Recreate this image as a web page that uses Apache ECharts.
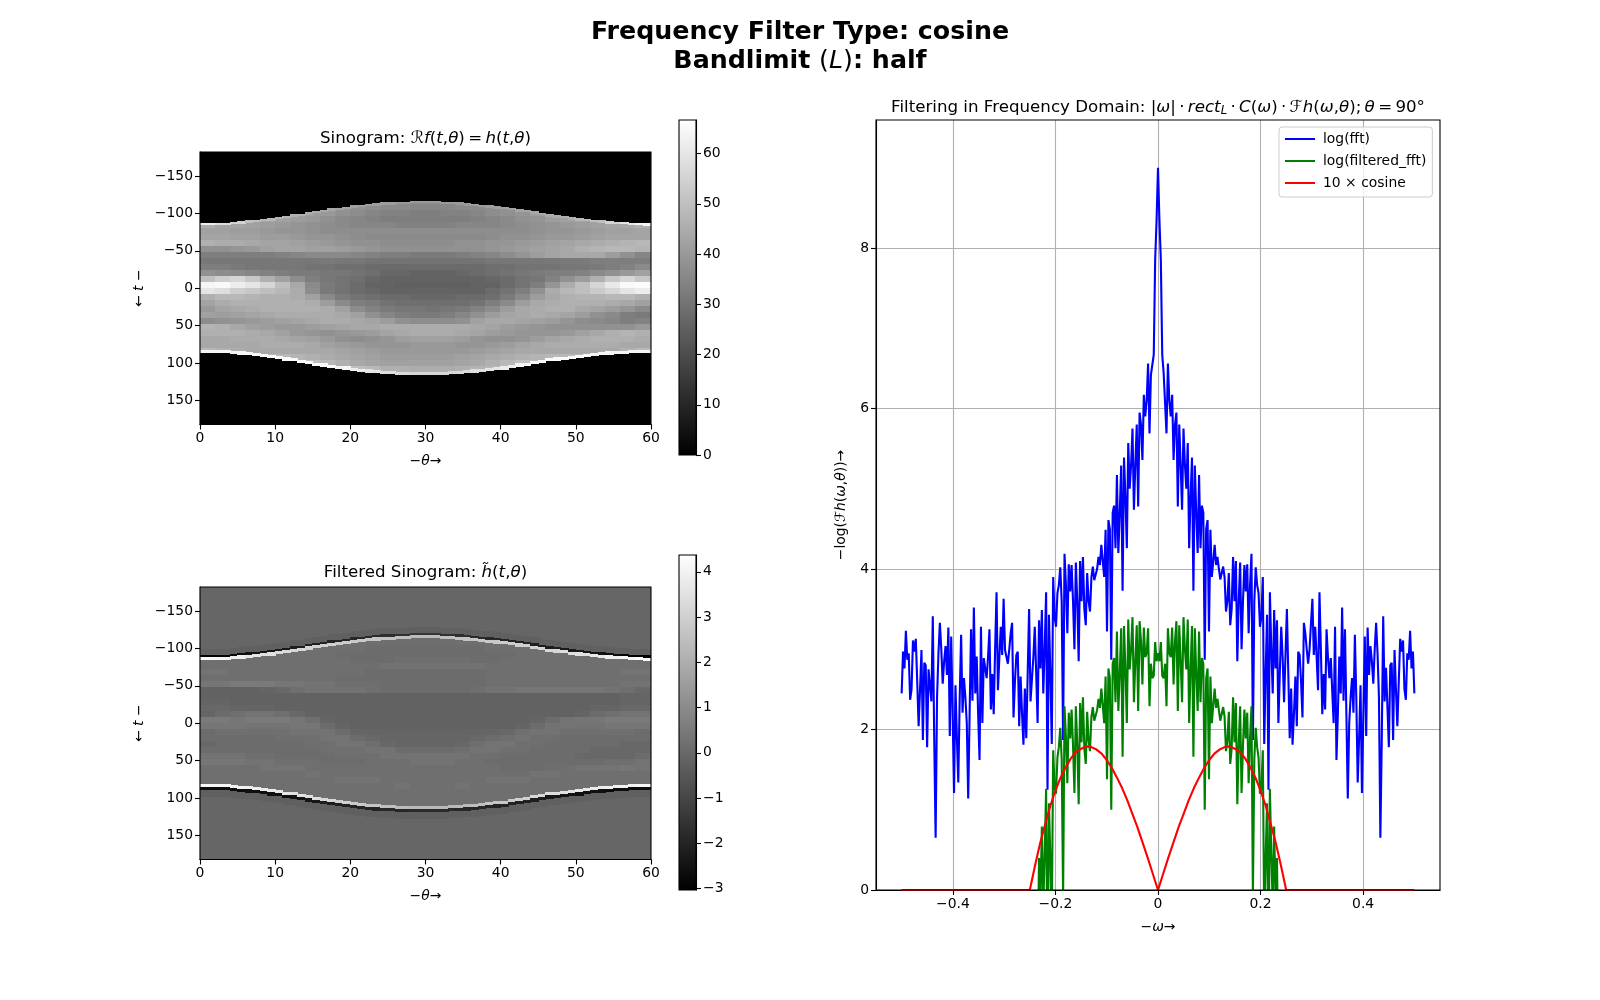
<!DOCTYPE html>
<html><head><meta charset="utf-8">
<script src="https://cdn.jsdelivr.net/npm/echarts@6/dist/echarts.min.js"></script>
<style>html,body{margin:0;padding:0;background:#fff}#c{width:1600px;height:1000px}</style>
</head><body><div id="c"></div>
<script>
// ---------- Sinogram panel data ----------
const rowCentres = [-116,-108,-100,-92,-84,-76,-68,-60,-52,-44,-36,-28,-20,-12,-4,4,12,20,28,36,44,52,60,68,76,84,92,100,108,116];
const topEdge = [-87,-87,-87,-87,-88,-89,-90,-91,-92,-93,-95,-96,-98,-99,-101,-103,-104,-106,-107,-108,-110,-111,-112,-113,-114,-114,-115,-115,-116,-116,-116,-116,-115,-115,-114,-113,-112,-111,-110,-109,-108,-107,-105,-104,-102,-100,-98,-97,-96,-94,-93,-92,-91,-90,-89,-88,-88,-87,-87,-86];
const bottomEdge = [86,86,86,86,87,88,89,90,91,93,94,96,97,99,101,103,104,106,107,108,110,111,112,113,114,114,115,115,115,115,115,115,115,114,114,113,112,111,110,109,108,106,104,103,101,99,97,96,95,94,93,91,90,89,88,87,87,86,86,86];
const sinoTopBright = [62,58,55,50,48,47,46,45,44,43, 42,41,41,40,40,40,40,40,41,41, 42,43,44,45,46,48,50,55,60,64];
const sinoBottomBright = [64,64,64,65,65,65,65,65,65,64, 62,60,58,57,56,56,56,57,58,60, 62,64,65,65,65,65,64,64,64,64];
const sinoOutside = 0;
const sinoGrid = [
[36,36,36,36,36,36,36,36,36,36, 36,36,36,36,36,36,36,36,36,36, 36,36,36,36,36,36,36,36,36,36],
[42,42,42,42,42,42,42,41,41,39, 38,37,36,36,35,35,35,36,36,37, 38,39,40,41,41,42,42,42,42,42],
[44,44,44,44,43,43,42,41,40,38, 37,35,34,34,33,33,34,34,35,37, 38,39,41,42,42,43,44,44,44,44],
[44,44,44,44,43,42,41,40,38,36, 35,34,33,33,33,33,33,33,34,35, 36,38,39,41,42,43,44,44,45,45],
[45,43,43,42,41,40,39,38,37,36, 35,35,35,34,34,34,34,35,35,35, 36,37,38,39,40,41,42,43,44,46],
[42,42,41,41,40,39,39,38,37,37, 37,37,37,37,37,37,37,37,37,37, 37,37,38,39,39,40,41,42,42,43],
[43,43,42,42,41,41,40,39,39,38, 37,36,36,36,36,36,36,36,36,37, 38,38,39,40,40,41,42,43,43,43],
[46,45,45,44,43,43,42,41,40,39, 38,38,37,37,37,37,37,38,38,39, 39,40,41,42,43,44,45,46,47,48],
[38,38,39,40,42,43,43,42,42,41, 40,39,38,38,38,38,38,38,38,39, 40,41,42,43,44,46,47,48,48,47],
[33,33,33,33,33,34,35,36,36,36, 35,34,33,33,32,32,32,33,34,35, 37,39,41,43,44,44,44,41,38,35],
[31,31,31,31,31,31,31,31,32,31, 31,30,30,30,30,30,30,30,30,31, 31,31,31,31,32,32,33,33,33,33],
[33,33,32,31,31,31,31,30,30,29, 29,28,28,28,28,28,28,28,28,29, 29,30,30,30,31,31,32,33,34,36],
[38,37,36,35,34,33,32,32,31,31, 30,29,27,27,26,26,26,27,28,29, 30,31,32,33,33,34,36,38,40,42],
[50,54,56,52,46,42,37,33,31,30, 29,27,26,26,26,26,26,26,26,27, 28,30,31,34,38,41,46,52,56,52],
[64,65,62,60,56,50,44,36,32,30, 28,26,26,25,25,25,25,25,26,26, 28,30,33,39,45,50,56,61,65,66],
[60,58,54,52,50,48,45,37,32,30, 28,27,26,26,26,26,26,26,26,28, 30,33,38,45,48,50,53,56,60,62],
[46,48,48,47,46,46,45,42,36,32, 30,29,28,28,27,27,27,28,28,29, 32,36,41,44,46,47,47,48,48,46],
[43,45,46,46,46,46,46,45,41,36, 33,32,30,29,29,29,29,29,30,33, 36,41,44,45,46,46,46,45,44,42],
[40,43,44,45,46,46,46,46,45,42, 37,34,32,31,31,30,31,32,34,37, 41,44,45,46,46,44,43,41,39,36],
[42,41,42,43,44,45,45,45,45,44, 42,38,35,33,32,32,33,35,38,41, 43,44,45,44,43,41,38,36,33,32],
[37,38,39,40,41,42,43,44,45,45, 44,43,41,38,37,37,37,38,42,44, 44,43,42,41,39,37,36,35,33,34],
[47,46,44,42,41,40,40,41,42,43, 44,44,45,45,45,45,45,45,44,43, 41,40,39,38,38,38,38,38,38,40],
[46,46,46,45,44,42,40,39,38,39, 40,41,43,44,45,45,45,44,43,41, 40,39,39,39,40,42,44,46,47,46],
[44,44,45,45,45,44,43,42,40,38, 37,38,39,41,42,42,42,41,39,38, 38,39,41,43,44,45,46,46,46,45],
[44,44,44,44,45,45,45,44,42,41, 40,39,39,39,40,40,40,39,39,40, 41,43,44,45,45,45,45,45,44,44],
[48,46,45,44,44,44,44,44,44,43, 42,41,40,40,40,40,40,40,41,42, 43,44,44,44,44,44,44,44,46,48],
[48,48,48,47,48,48,47,46,45,44, 43,42,41,41,41,41,41,42,43,44, 45,46,47,48,48,48,48,48,48,48],
[50,50,50,50,50,50,50,50,48,46, 44,43,42,42,42,42,42,43,44,46, 48,50,50,50,50,50,50,50,50,50],
[50,50,50,50,50,50,50,50,50,50, 50,48,46,46,45,45,45,46,47,48, 50,50,50,50,50,50,50,50,50,50],
[52,52,52,52,52,52,52,52,52,52, 52,52,52,52,52,52,52,52,52,52, 52,52,52,52,52,52,52,52,52,52]
];
// ---------- Filtered sinogram panel data ----------
const filtTopWhite = [4.2,4.1,3.9,3.7,3.5,3.3,3.2,3.1,3,2.9, 2.8,2.7,2.6,2.5,2.4,2.4,2.5,2.6,2.7,2.8, 2.9,3,3.1,3.2,3.4,3.5,3.7,3.9,4.1,4.3];
const filtTopDark = [-3,-2.9,-2.7,-2.5,-2.4,-2.3,-2.2,-2.1,-2,-2, -1.9,-1.8,-1.7,-1.6,-1.5,-1.5,-1.6,-1.7,-1.8,-1.9, -2,-2,-2.1,-2.2,-2.3,-2.4,-2.5,-2.7,-2.9,-3];
const filtBottomWhite = [4.1,4.1,4,3.9,3.8,3.7,3.5,3.4,3.2,3, 2.8,2.7,2.5,2.4,2.3,2.3,2.3,2.4,2.5,2.7, 2.8,3,3.2,3.4,3.5,3.7,3.8,3.9,4,4.1];
const filtBottomDark = [-2.7,-2.7,-2.7,-2.6,-2.6,-2.6,-2.5,-2.4,-2.2,-2.1, -2,-2,-1.9,-1.9,-1.8,-1.8,-1.8,-1.9,-1.9,-2, -2,-2.1,-2.2,-2.4,-2.5,-2.6,-2.6,-2.7,-2.7,-2.7];
const filtOutside = -0.06;
const filtHalo = -0.25;
const filtGrid = [
[.1,.1,.1,.1,.1,.1,.1,.1,.1,.1, .1,.1,.1,.1,.1,.1,.1,.1,.1,.1, .1,.1,.1,.1,.1,.1,.1,.1,.1,.1],
[.2,.2,.2,.2,.2,.2,.2,.2,.2,.2, .2,.2,.2,.2,.2,.2,.2,.2,.2,.2, .2,.2,.2,.2,.2,.2,.2,.2,.2,.2],
[.2,.2,.2,.2,.2,.2,.2,.2,.2,.2, .2,.1,.1,.1,.1,.1,.1,.1,.1,.2, .2,.2,.2,.2,.2,.2,.2,.2,.2,.2],
[.2,.2,.2,.2,.2,.2,.2,.2,.2,.1, .1,.1,.1,.1,.1,.1,.1,.1,.1,.1, .1,.2,.2,.2,.2,.2,.2,.2,.2,.2],
[.2,.2,.2,.2,.2,.2,.2,.2,.2,.2, .1,.1,.1,.2,.2,.2,.2,.2,.1,.1, .2,.2,.2,.2,.2,.2,.2,.2,.2,.2],
[.2,.2,.2,.2,.2,.2,.2,.2,.2,.2, .2,.2,.3,.3,.3,.3,.3,.3,.3,.2, .2,.2,.2,.2,.2,.2,.2,.2,.2,.2],
[.3,.3,.2,.2,.2,.2,.2,.2,.2,.2, .2,.1,.1,.1,.1,.1,.1,.1,.1,.2, .2,.2,.2,.2,.2,.2,.2,.2,.3,.3],
[.2,.2,.2,.2,.2,.2,.2,.2,.2,.1, .1,.1,.1,.1,.1,.1,.1,.1,.1,.2, .2,.2,.2,.2,.2,.2,.2,.2,.2,.2],
[.4,.4,.5,.5,.5,.4,.4,.3,.3,.2, .2,.2,.1,.1,.1,.1,.1,.1,.1,.2, .2,.2,.2,.2,.2,.2,.2,.2,.3,.3],
[-.2,-.2,-.2,-.2,-.1,.0,.2,.3,.3,.3, .3,.2,.1,.1,.1,.1,.1,.1,.2,.3, .3,.4,.4,.4,.4,.4,.4,.3,.2,.0],
[-.2,-.2,-.2,-.2,-.2,-.2,-.2,-.2,-.2,-.2, -.2,-.2,-.2,-.2,-.2,-.2,-.2,-.2,-.2,-.2, -.2,-.2,-.2,-.2,-.2,-.2,-.2,-.2,-.1,-.1],
[-.1,-.1,-.2,-.2,-.2,-.2,-.2,-.2,-.2,-.2, -.2,-.2,-.2,-.2,-.2,-.2,-.2,-.2,-.2,-.2, -.2,-.2,-.2,-.2,-.2,-.2,-.2,-.2,-.1,-.1],
[.0,.0,-.1,-.1,-.1,-.2,-.2,-.2,-.2,-.2, -.2,-.2,-.2,-.2,-.2,-.2,-.2,-.2,-.2,-.2, -.2,-.2,-.2,-.2,-.2,-.2,-.1,-.1,.0,.0],
[-.1,.1,.2,.3,.3,.2,.0,-.2,-.2,-.2, -.2,-.2,-.2,-.2,-.2,-.2,-.2,-.2,-.2,-.2, -.2,-.2,-.2,-.2,-.2,-.1,.1,.2,.3,.3],
[.5,.5,.4,.5,.5,.5,.4,.2,-.1,-.2, -.2,-.2,-.2,-.2,-.2,-.2,-.2,-.2,-.2,-.2, -.2,-.2,-.1,.1,.3,.4,.4,.5,.5,.5],
[.4,.4,.4,.3,.3,.3,.4,.4,.1,-.1, -.2,-.2,-.2,-.2,-.2,-.2,-.2,-.2,-.2,-.2, -.2,-.1,.1,.3,.3,.3,.3,.4,.4,.4],
[.1,.2,.2,.2,.2,.2,.3,.3,.3,.1, -.1,-.1,-.1,-.1,-.1,-.1,-.1,-.1,-.1,-.1, .0,.2,.3,.3,.2,.2,.2,.2,.2,.1],
[.1,.1,.1,.1,.1,.2,.2,.2,.3,.3, .1,.0,-.1,-.1,-.1,-.1,-.1,-.1,.0,.1, .2,.3,.2,.2,.1,.1,.1,.1,.1,.1],
[.0,.1,.1,.1,.1,.1,.1,.2,.2,.3, .3,.2,.0,-.1,-.1,-.1,-.1,.0,.2,.3, .3,.2,.2,.1,.1,.1,.1,.1,.0,.0],
[.1,.1,.1,.1,.1,.1,.1,.1,.2,.2, .2,.3,.3,.1,.1,.1,.1,.2,.3,.3, .2,.2,.1,.1,.1,.1,.0,.0,.0,.0],
[.3,.3,.3,.2,.2,.1,.1,.1,.1,.2, .2,.2,.3,.3,.3,.3,.3,.3,.2,.2, .1,.1,.1,.1,.1,.0,.0,.0,.0,.1],
[.4,.4,.4,.3,.3,.2,.2,.2,.1,.1, .1,.2,.2,.2,.3,.3,.3,.2,.2,.1, .1,.1,.1,.1,.1,.1,.1,.2,.2,.3],
[.2,.2,.2,.2,.3,.3,.3,.2,.2,.2, .2,.2,.2,.2,.2,.2,.2,.2,.2,.2, .1,.1,.1,.2,.2,.3,.3,.3,.4,.3],
[.2,.2,.2,.2,.2,.2,.2,.3,.2,.2, .2,.2,.2,.2,.2,.2,.2,.2,.2,.2, .2,.2,.3,.3,.2,.2,.2,.2,.2,.2],
[.2,.2,.2,.2,.2,.2,.2,.2,.2,.3, .3,.3,.2,.2,.2,.2,.2,.2,.2,.3, .3,.3,.2,.2,.2,.2,.2,.2,.2,.2],
[.2,.2,.2,.2,.2,.2,.2,.2,.2,.2, .2,.2,.2,.3,.2,.2,.2,.3,.2,.2, .2,.2,.2,.2,.2,.2,.2,.2,.2,.2],
[.2,.2,.2,.2,.2,.2,.2,.2,.2,.2, .2,.2,.2,.2,.2,.2,.2,.2,.2,.2, .2,.2,.2,.2,.2,.2,.2,.2,.2,.2],
[.2,.2,.2,.2,.2,.2,.2,.2,.2,.2, .2,.2,.2,.2,.2,.2,.2,.2,.2,.2, .2,.2,.2,.2,.2,.2,.2,.2,.2,.2],
[.2,.2,.2,.2,.2,.2,.2,.2,.2,.2, .2,.2,.2,.2,.2,.2,.2,.2,.2,.2, .2,.2,.2,.2,.2,.2,.2,.2,.2,.2],
[.2,.2,.2,.2,.2,.2,.2,.2,.2,.2, .2,.2,.2,.2,.2,.2,.2,.2,.2,.2, .2,.2,.2,.2,.2,.2,.2,.2,.2,.2]
];
// ---------- Frequency-domain lines ----------
const logFft = [
2.45,2.97,2.76,3.23,2.87,2.95,2.37,2.5,3.11,2.97,3.13,2.6,2.04,2.5,2.99,1.87,2.83,2.8,1.78,2.75,
2.77,2.35,3.41,1.9,.65,2.4,2.95,3.33,3.0,2.57,2.85,3.04,2.68,3.27,1.92,3.16,2.2,1.21,2.55,1.9,
1.34,2.4,3.18,2.21,2.64,2.4,2.08,1.14,2.2,3.25,2.36,3.52,2.45,2.91,2.2,1.62,3.28,2.08,2.89,2.89,
2.64,2.9,3.25,2.25,2.69,2.19,3.0,3.71,2.49,2.9,3.28,2.93,3.63,2.99,3.0,2.82,3.0,3.2,3.33,2.15,
2.6,2.93,2.97,2.04,2.66,2.2,1.81,2.51,1.89,2.7,3.5,2.35,2.34,2.9,3.28,2.7,2.08,3.36,2.76,3.49,
2.45,3.0,3.71,1.25,3.43,2.7,1.82,3.9,3.4,3.28,3.7,3.8,4.02,3.6,1.87,4.19,3.8,3.2,4.06,3.72,
4.05,3.6,3.0,4.08,3.6,2.85,4.1,3.6,4.15,3.5,3.3,3.95,3.6,3.47,3.9,4.03,3.86,3.87,4.0,4.15,
4.05,4.3,4.1,3.9,4.49,3.22,4.61,4.5,2.87,4.7,4.79,4.26,5.17,4.2,4.7,5.29,3.73,5.39,4.9,4.26,
5.57,5.0,5.3,5.75,4.74,5.3,5.8,4.78,5.95,5.8,5.36,6.17,5.9,6.1,6.56,5.69,6.42,6.44,6.67,7.85,
8.35,9.0,
8.35,7.85,6.67,6.44,6.42,5.69,6.56,6.1,5.9,6.17,
5.36,5.8,5.95,4.78,5.8,5.3,4.74,5.75,5.3,5.0,5.57,
4.26,4.9,5.39,3.73,5.29,4.7,4.2,5.17,4.26,4.79,4.7,2.87,4.5,4.61,3.22,4.49,3.9,4.1,4.3,4.05,
4.15,4.0,3.87,3.86,4.03,3.9,3.47,3.6,3.95,3.3,3.5,4.15,3.6,4.1,2.85,3.6,4.08,3.0,3.6,4.05,
3.72,4.06,3.2,3.8,4.19,1.87,3.6,4.02,3.8,3.7,3.28,3.4,3.9,1.82,2.7,3.43,1.25,3.71,3.0,2.45,
3.49,2.76,3.36,2.08,2.7,3.28,2.9,2.34,2.35,3.5,2.7,1.89,2.51,1.81,2.2,2.66,2.04,2.97,2.93,2.6,
2.15,3.33,3.2,3.0,2.82,3.0,2.99,3.63,2.93,3.28,2.9,2.49,3.71,3.0,2.19,2.69,2.25,3.25,2.9,2.64,
2.89,2.89,2.08,3.28,1.62,2.2,2.91,2.45,3.52,2.36,3.25,2.2,1.14,2.08,2.4,2.64,2.21,3.18,2.4,1.34,
1.9,2.55,1.21,2.2,3.16,1.92,3.27,2.68,3.04,2.85,2.57,3.0,3.33,2.95,2.4,.65,1.9,3.41,2.35,2.77,
2.75,1.78,2.8,2.83,1.87,2.99,2.5,2.04,2.6,3.13,2.97,3.11,2.5,2.37,2.95,2.87,3.23,2.76,2.97,2.45
];
const filteredStart = 94;
const logFiltered = [
-.1,-.6,-1.1,.4,-.1,.79,-.2,.45,1.26,-1.15,1.08,.4,-.43,1.74,1.28,1.2,1.65,1.78,2.02,1.63,-.08,2.29,1.9,1.33,2.21,1.89,2.25,1.8,1.21,2.29,1.82,1.07,2.33,1.84,2.4,1.76,1.57,2.22,1.86,1.73,2.16,2.28,2.11,2.11,2.24,2.38,2.27,2.51,2.3,2.08,2.66,1.38,2.76,2.64,1.0,2.82,2.89,2.34,3.22,2.23,2.7,3.26,1.66,3.29,2.75,2.08,3.37,2.75,3.0,3.4,2.34,2.85,3.3,2.23,3.35,3.1,2.56,3.27,2.9,2.95,3.26,2.29,2.82,2.64,2.67,3.09,2.85,
2.95,
2.85,3.09,2.67,2.64,2.82,2.29,3.26,2.95,2.9,3.27,2.56,3.1,3.35,2.23,3.3,2.85,2.34,3.4,3.0,2.75,3.37,2.08,2.75,3.29,1.66,3.26,2.7,2.23,3.22,2.34,2.89,2.82,1.0,2.64,2.76,1.38,2.66,2.08,2.3,2.51,2.27,2.38,2.24,2.11,2.11,2.28,2.16,1.73,1.86,2.22,1.57,1.76,2.4,1.84,2.33,1.07,1.82,2.29,1.21,1.8,2.25,1.89,2.21,1.33,1.9,2.29,-.08,1.63,2.02,1.78,1.65,1.2,1.28,1.74,-.43,.4,1.08,-1.15,1.26,.45,-.2,.79,-.1,.4,-1.1,-.6,-.1
];
const cosineOmega = [-.5,-.25,-.24,-.23,-.22,-.21,-.2,-.19,-.18,-.17,-.16,-.15,-.14,-.13,-.12,-.11,-.1,-.09,-.08,-.07,-.06,-.05,-.04,-.03,-.02,-.01,0,.01,.02,.03,.04,.05,.06,.07,.08,.09,.1,.11,.12,.13,.14,.15,.16,.17,.18,.19,.2,.21,.22,.23,.24,.25,.5];
const cosineValues = [0,0,.3,.58,.82,1.05,1.24,1.4,1.53,1.64,1.72,1.76,1.79,1.78,1.75,1.7,1.62,1.52,1.4,1.27,1.12,.95,.78,.59,.4,.2,0,.2,.4,.59,.78,.95,1.12,1.27,1.4,1.52,1.62,1.7,1.75,1.78,1.79,1.76,1.72,1.64,1.53,1.4,1.24,1.05,.82,.58,.3,0,0];
// ---------- Ticks ----------
const sinoXTicks = [0,10,20,30,40,50,60];
const sinoYTicks = [-150,-100,-50,0,50,100,150];
const sinoBarTicks = [0,10,20,30,40,50,60];
const filtBarTicks = [-3,-2,-1,0,1,2,3,4];
const freqXTicks = [-.4,-.2,0,.2,.4];
const freqYTicks = [0,2,4,6,8];

const FONT = 'DejaVu Sans';
const FS = 13.9;
const minus = v => String(v).replace('-', '\u2212');
const T_HALF = 4;

function cells(table, top, bottom, outside, edgeFn) {
  const out = [[0, 60, -182, 182, outside]];
  if (edgeFn.halo != null) {
    for (let c = 0; c < 60; c++) {
      out.push([c, c + 1, top[c] - 12, top[c], edgeFn.halo]);
      out.push([c, c + 1, bottom[c], bottom[c] + 12, edgeFn.halo]);
    }
  }
  for (let c = 0; c < 60; c++) {
    const g = Math.floor(c / 2);
    rowCentres.forEach((tc, r) => {
      const a = Math.max(tc - T_HALF, top[c]), b = Math.min(tc + T_HALF, bottom[c]);
      if (b > a) out.push([c, c + 1, a, b, table[r][g]]);
    });
  }
  for (let c = 0; c < 60; c++) edgeFn(c, Math.floor(c / 2), out);
  return out;
}
const sinoEdges = (c, g, out) => {
  out.push([c, c + 1, topEdge[c], topEdge[c] + 2, sinoTopBright[g]]);
  out.push([c, c + 1, bottomEdge[c] - 3, bottomEdge[c], sinoBottomBright[g]]);
};
const filtEdges = (c, g, out) => {
  out.push([c, c + 1, topEdge[c] - 4, topEdge[c] - 1, filtTopDark[g]]);
  out.push([c, c + 1, topEdge[c] - 1, topEdge[c] + 2, filtTopWhite[g]]);
  out.push([c, c + 1, bottomEdge[c] - 4, bottomEdge[c], filtBottomWhite[g]]);
  out.push([c, c + 1, bottomEdge[c], bottomEdge[c] + 3, filtBottomDark[g]]);
};
filtEdges.halo = filtHalo;

const grayRender = (lo, hi) => (params, api) => {
  const p0 = api.coord([api.value(0), api.value(2)]);
  const p1 = api.coord([api.value(1), api.value(3)]);
  const x = Math.floor(Math.min(p0[0], p1[0])), y = Math.floor(Math.min(p0[1], p1[1]));
  const g = Math.round(Math.max(0, Math.min(1, (api.value(4) - lo) / (hi - lo))) * 255);
  return { type: 'rect',
    shape: { x, y, width: Math.ceil(Math.max(p0[0], p1[0])) - x, height: Math.ceil(Math.max(p0[1], p1[1])) - y },
    style: { fill: `rgb(${g},${g},${g})` } };
};
const barRender = (params, api) => {
  const p0 = api.coord([0, api.value(0)]), p1 = api.coord([1, api.value(1)]);
  return { type: 'rect', shape: { x: p0[0], y: p1[1], width: p1[0] - p0[0], height: p0[1] - p1[1] },
    style: { fill: { type: 'linear', x: 0, y: 1, x2: 0, y2: 0, colorStops: [{ offset: 0, color: '#000' }, { offset: 1, color: '#fff' }] } } };
};
const frameRender = (params, api) => {
  const p0 = api.coord([api.value(0), api.value(1)]), p1 = api.coord([api.value(2), api.value(3)]);
  return { type: 'rect', shape: { x: Math.min(p0[0], p1[0]), y: Math.min(p0[1], p1[1]), width: Math.abs(p1[0] - p0[0]), height: Math.abs(p1[1] - p0[1]) },
    style: { fill: 'none', stroke: '#000', lineWidth: 1.1 } };
};

const italic = { fontStyle: 'italic', fontFamily: FONT };
const mathRich = fs => ({
  i: { ...italic, fontSize: fs, color: '#000', fontWeight: 'normal' },
  m: { fontFamily: FONT, fontSize: fs, color: '#000', fontWeight: 'normal' },
  s: { ...italic, fontSize: fs * 0.7, color: '#000', padding: [fs * 0.35, 0, 0, 0] }
});
const axisText = { color: '#000', fontSize: FS, fontFamily: FONT, margin: 7 };
const tick = { show: true, length: 5, lineStyle: { color: '#000', width: 1.1 } };
const line = { show: true, onZero: false, lineStyle: { color: '#000', width: 1.1 } };
function xAxisOf(grid, min, max, ticks, name, fmt, extra) {
  return Object.assign({ type: 'value', gridIndex: grid, min, max, scale: true, axisLine: line,
    axisTick: { ...tick, customValues: ticks }, axisLabel: { ...axisText, customValues: ticks, formatter: fmt || minus },
    splitLine: { show: false }, name, nameLocation: 'middle', nameGap: 30,
    nameTextStyle: { color: '#000', fontFamily: FONT, fontSize: FS, rich: mathRich(FS) } }, extra || {});
}
function yAxisOf(grid, min, max, ticks, name, extra) {
  return Object.assign({ type: 'value', gridIndex: grid, min, max, scale: true, axisLine: line,
    axisTick: { ...tick, customValues: ticks }, axisLabel: { ...axisText, customValues: ticks, formatter: minus, padding: [2, 0, 0, 0] },
    splitLine: { show: false }, name, nameLocation: 'middle', nameGap: 54,
    nameTextStyle: { color: '#000', fontFamily: FONT, fontSize: FS, rich: mathRich(FS) } }, extra || {});
}
const hiddenX = grid => ({ type: 'value', gridIndex: grid, min: 0, max: 1, show: false });
const gridStyle = { show: true, lineStyle: { color: '#b0b0b0', width: 1.1 } };

const omega = i => -0.5 + i / 362;
const titleAt = (x, top, text, fs) => ({
  text, left: x, top, textAlign: 'center', padding: 0,
  textStyle: { fontFamily: FONT, fontSize: fs, color: '#000', fontWeight: 'normal', rich: mathRich(fs) }
});
const SINO_MAX = 66.7, FILT_MIN = -3.03, FILT_MAX = 4.37;
const thetaName = '{m|\u2212}{i|\u03b8}{m|\u2192}';
const tName = '{m|\u2190 }{i|t}{m| \u2212}';
const TH = '\u2009';

const option = {
  animation: false,
  backgroundColor: '#fff',
  title: [
    { text: 'Frequency Filter Type: cosine', left: 800, top: 20, textAlign: 'center', padding: 0,
      textStyle: { fontFamily: FONT, fontSize: 25.3, fontWeight: 'bold', color: '#000' } },
    { text: 'Bandlimit {m|(}{i|L}{m|)}: half', left: 800, top: 49, textAlign: 'center', padding: 0,
      textStyle: { fontFamily: FONT, fontSize: 25.3, fontWeight: 'bold', color: '#000', rich: mathRich(25.3) } },
    titleAt(425.5, 130, `Sinogram: {m|\u211b}{i|f}{m|(}{i|t}{m|,}{i|\u03b8}{m|)${TH}=${TH}}{i|h}{m|(}{i|t}{m|,}{i|\u03b8}{m|)}`, 16.67),
    titleAt(425.5, 564, 'Filtered Sinogram: {i|h\u0303}{m|(}{i|t}{m|,}{i|\u03b8}{m|)}', 16.67),
    titleAt(1158, 99, `Filtering in Frequency Domain: {m|\u007c}{i|\u03c9}{m|\u007c${TH}\u00b7${TH}}{i|rect}{s|L}{m|${TH}\u00b7${TH}}{i|C}{m|(}{i|\u03c9}{m|)${TH}\u00b7${TH}\u2131}{i|h}{m|(}{i|\u03c9}{m|,}{i|\u03b8}{m|);${TH}}{i|\u03b8}{m|${TH}=${TH}90\u00b0}`, 16.67)
  ],
  legend: { data: ['log(fft)', 'log(filtered_fft)', '10 \u00d7 cosine'], orient: 'vertical', left: 1279, top: 127,
    itemWidth: 30, itemHeight: 2, itemGap: 8, icon: 'rect', padding: [5, 6, 7, 6], borderColor: '#ccc', borderWidth: 1, borderRadius: 3,
    backgroundColor: 'rgba(255,255,255,0.8)', textStyle: { fontFamily: FONT, fontSize: FS, color: '#000', padding: [0, 0, 0, 3] } },
  grid: [
    { left: 200, top: 152, width: 451, height: 272.5 },
    { left: 679, top: 120, width: 17, height: 335 },
    { left: 200, top: 587, width: 451, height: 272.5 },
    { left: 679, top: 555, width: 17, height: 335 },
    { left: 876, top: 120, width: 564, height: 770 }
  ],
  xAxis: [
    xAxisOf(0, 0, 60, sinoXTicks, thetaName),
    hiddenX(1),
    xAxisOf(2, 0, 60, sinoXTicks, thetaName),
    hiddenX(3),
    xAxisOf(4, -.55, .55, freqXTicks, '{m|\u2212}{i|\u03c9}{m|\u2192}', v => minus(v), { splitLine: gridStyle })
  ],
  yAxis: [
    yAxisOf(0, -182, 182, sinoYTicks, tName, { inverse: true }),
    yAxisOf(1, 0, SINO_MAX, sinoBarTicks, '', { position: 'right' }),
    yAxisOf(2, -182, 182, sinoYTicks, tName, { inverse: true }),
    yAxisOf(3, FILT_MIN, FILT_MAX, filtBarTicks, '', { position: 'right' }),
    yAxisOf(4, 0, 9.595, freqYTicks, '{m|\u2212log(\u2131}{i|h}{m|(}{i|\u03c9}{m|,}{i|\u03b8}{m|))\u2192}', { splitLine: gridStyle, nameGap: 28 })
  ],
  series: [
    { type: 'custom', xAxisIndex: 0, yAxisIndex: 0, renderItem: grayRender(0, SINO_MAX), data: cells(sinoGrid, topEdge, bottomEdge, sinoOutside, sinoEdges), silent: true },
    { type: 'custom', xAxisIndex: 2, yAxisIndex: 2, renderItem: grayRender(FILT_MIN, FILT_MAX), data: cells(filtGrid, topEdge, bottomEdge, filtOutside, filtEdges), silent: true },
    { type: 'custom', xAxisIndex: 1, yAxisIndex: 1, renderItem: barRender, data: [[0, SINO_MAX]], silent: true },
    { type: 'custom', xAxisIndex: 3, yAxisIndex: 3, renderItem: barRender, data: [[FILT_MIN, FILT_MAX]], silent: true },
    { name: 'log(fft)', type: 'line', xAxisIndex: 4, yAxisIndex: 4, showSymbol: false, symbol: 'none', clip: true,
      lineStyle: { color: '#0000ff', width: 2.1 }, itemStyle: { color: '#0000ff' }, data: logFft.map((v, i) => [omega(i), v]) },
    { name: 'log(filtered_fft)', type: 'line', xAxisIndex: 4, yAxisIndex: 4, showSymbol: false, symbol: 'none', clip: true,
      lineStyle: { color: '#008000', width: 2.1 }, itemStyle: { color: '#008000' }, data: logFiltered.map((v, i) => [omega(i + filteredStart), v]) },
    { name: '10 \u00d7 cosine', type: 'line', xAxisIndex: 4, yAxisIndex: 4, showSymbol: false, symbol: 'none', clip: true,
      lineStyle: { color: '#ff0000', width: 2.1 }, itemStyle: { color: '#ff0000' }, data: cosineValues.map((v, i) => [cosineOmega[i], v]) },
    { type: 'custom', xAxisIndex: 0, yAxisIndex: 0, renderItem: frameRender, data: [[0, -182, 60, 182]], z: 5, silent: true },
    { type: 'custom', xAxisIndex: 1, yAxisIndex: 1, renderItem: frameRender, data: [[0, 0, 1, SINO_MAX]], z: 5, silent: true },
    { type: 'custom', xAxisIndex: 2, yAxisIndex: 2, renderItem: frameRender, data: [[0, -182, 60, 182]], z: 5, silent: true },
    { type: 'custom', xAxisIndex: 3, yAxisIndex: 3, renderItem: frameRender, data: [[0, FILT_MIN, 1, FILT_MAX]], z: 5, silent: true },
    { type: 'custom', xAxisIndex: 4, yAxisIndex: 4, renderItem: frameRender, data: [[-.55, 0, .55, 9.595]], z: 5, silent: true }
  ]
};
const chart = echarts.init(document.getElementById('c'), null, { renderer: 'canvas', width: 1600, height: 1000 });
chart.setOption(option);
</script>
</body></html>
